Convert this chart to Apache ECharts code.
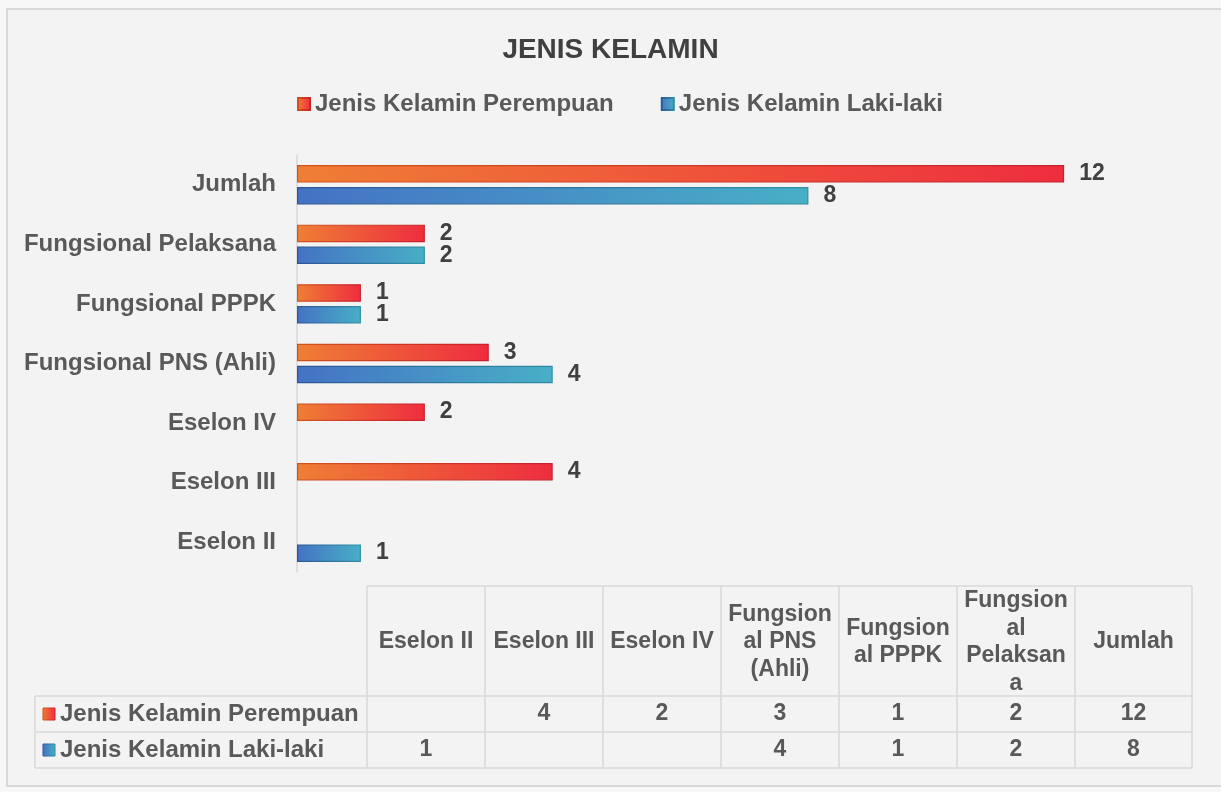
<!DOCTYPE html>
<html><head><meta charset="utf-8">
<script src="https://cdn.jsdelivr.net/npm/echarts@6/dist/echarts.min.js"></script>
<style>html,body{margin:0;padding:0;background:#f7f7f7}#c{width:1221px;height:792px}</style>
</head><body><div id="c"></div>
<script>
// ---- data ----
const categories = ['Eselon II', 'Eselon III', 'Eselon IV', 'Fungsional PNS (Ahli)', 'Fungsional PPPK', 'Fungsional Pelaksana', 'Jumlah'];
const tableHeaders = ['Eselon II', 'Eselon III', 'Eselon IV', 'Fungsion\nal PNS\n(Ahli)', 'Fungsion\nal PPPK', 'Fungsion\nal\nPelaksan\na', 'Jumlah'];
const seriesNames = ['Jenis Kelamin Perempuan', 'Jenis Kelamin Laki-laki'];
const perempuan = [null, 4, 2, 3, 1, 2, 12];
const lakiLaki = [1, null, null, 4, 1, 2, 8];
const titleText = 'JENIS KELAMIN';

// ---- styles ----
const FONT = '"Liberation Sans", Arial, sans-serif';
const TXT = '#595959';
function grad(c1, c2) {
  return new echarts.graphic.LinearGradient(0, 0, 1, 0, [{offset: 0, color: c1}, {offset: 1, color: c2}]);
}
const fillP = () => grad('#EF7E35', '#EE2D3F');
const fillL = () => grad('#4472C4', '#48AFC6');
const borderP = () => grad('#D2541C', '#C8202E');
const borderL = () => grad('#2F5597', '#2E8FA3');

const chart = echarts.init(document.getElementById('c'), null, {renderer: 'canvas'});

// ---- data table (layout) ----
const colX = [367, 485, 603, 721, 839, 957, 1075, 1192];
const legendColX = 35;
const rowY = [586, 696, 732, 768];
const lineStyle = {stroke: '#d9d9d9', lineWidth: 1.5};
const g = [];
// outer frame
g.push({type: 'rect', shape: {x: 7, y: 9, width: 1230, height: 777}, style: {fill: '#f3f3f3', stroke: '#d9d9d9', lineWidth: 2}, z: -10});
// horizontal lines
g.push({type: 'line', shape: {x1: colX[0], y1: rowY[0], x2: colX[7], y2: rowY[0]}, style: lineStyle});
for (let r = 1; r < rowY.length; r++) {
  g.push({type: 'line', shape: {x1: legendColX, y1: rowY[r], x2: colX[7], y2: rowY[r]}, style: lineStyle});
}
// vertical lines
g.push({type: 'line', shape: {x1: legendColX, y1: rowY[1], x2: legendColX, y2: rowY[3]}, style: lineStyle});
colX.forEach(x => g.push({type: 'line', shape: {x1: x, y1: rowY[0], x2: x, y2: rowY[3]}, style: lineStyle}));
// header text
tableHeaders.forEach((h, i) => {
  g.push({type: 'text', x: (colX[i] + colX[i + 1]) / 2, y: (rowY[0] + rowY[1]) / 2 + 1,
    style: {text: h, fill: TXT, font: 'bold 23px ' + FONT, align: 'center', verticalAlign: 'middle', lineHeight: 27.5}});
});
// rows
const rowsData = [perempuan, lakiLaki];
const rowFills = [fillP, fillL];
const rowBorders = [borderP, borderL];
rowsData.forEach((arr, r) => {
  const cy = (rowY[r + 1] + rowY[r + 2]) / 2;
  g.push({type: 'rect', shape: {x: 43, y: cy - 6, width: 12, height: 12}, style: {fill: rowFills[r](), stroke: rowBorders[r](), lineWidth: 1}});
  g.push({type: 'text', x: 60, y: cy, style: {text: seriesNames[r], fill: TXT, font: 'bold 24px ' + FONT, align: 'left', verticalAlign: 'middle'}});
  arr.forEach((v, i) => {
    if (v == null) return;
    g.push({type: 'text', x: (colX[i] + colX[i + 1]) / 2, y: cy, style: {text: String(v), fill: TXT, font: 'bold 23px ' + FONT, align: 'center', verticalAlign: 'middle'}});
  });
});

const labelCfg = {show: true, position: 'right', distance: 15, color: '#404040', fontFamily: FONT, fontWeight: 'bold', fontSize: 23};

chart.setOption({
  animation: false,
  backgroundColor: 'transparent',
  title: {text: titleText, left: 'center', top: 31,
    textStyle: {fontFamily: FONT, fontWeight: 'bold', fontSize: 28, color: '#404040'}},
  legend: {left: 292, top: 87, itemWidth: 12, itemHeight: 12, itemGap: 47, icon: 'rect',
    textStyle: {fontFamily: FONT, fontWeight: 'bold', fontSize: 24, color: TXT},
    data: seriesNames},
  grid: {left: 297, right: 29, top: 155, bottom: 220, containLabel: false},
  xAxis: {type: 'value', min: 0, max: 14, show: false},
  yAxis: {type: 'category', data: categories,
    axisLine: {show: true, lineStyle: {color: '#d9d9d9', width: 1.5}},
    axisTick: {show: false},
    axisLabel: {margin: 21, fontFamily: FONT, fontWeight: 'bold', fontSize: 24, color: TXT},
    splitLine: {show: false}},
  series: [
    {name: seriesNames[0], type: 'bar', data: perempuan, barWidth: 17.5, barGap: '25%',
      itemStyle: {color: fillP(), borderColor: borderP(), borderWidth: 1.2}, label: labelCfg},
    {name: seriesNames[1], type: 'bar', data: lakiLaki, barWidth: 17.5, barGap: '25%',
      itemStyle: {color: fillL(), borderColor: borderL(), borderWidth: 1.2}, label: labelCfg}
  ],
  graphic: {elements: g}
});
</script>
</body></html>
